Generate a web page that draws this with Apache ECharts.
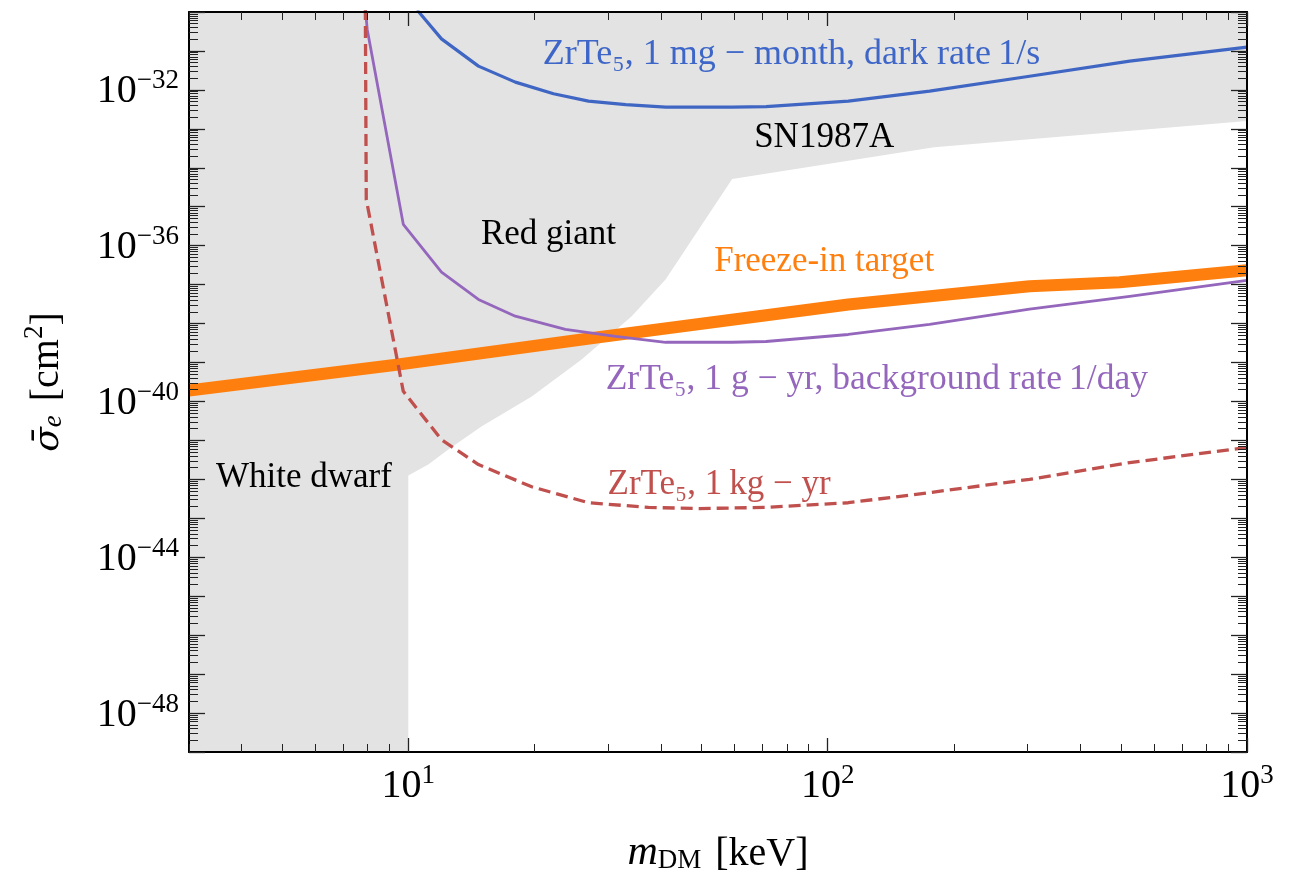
<!DOCTYPE html>
<html><head><meta charset="utf-8">
<script src="https://cdn.jsdelivr.net/npm/echarts@6/dist/echarts.min.js"></script>
<style>html,body{margin:0;padding:0;background:#fff}#c{width:1298px;height:872px}</style>
</head><body><div id="c"></div>
<script>
const FONT = '"Liberation Serif", "DejaVu Serif", serif';

// axis ranges (mass in keV, cross-section exponent = log10(sigma / cm^2))
const xRange = [3, 1000];
const yExpRange = [-49, -30];
const xLabelExps = [1, 2, 3];
const yLabelExps = [-48, -44, -40, -36, -32];

// excluded region (SN1987A / Red giant / White dwarf), boundary below which it's allowed
const grayMass = [3, 10, 10, 11.16, 12.46, 14.94, 19.7, 25.9, 34.1, 41.1, 59.2, 179.5, 1000];
const grayLogSigma = [-49, -49, -41.90, -41.62, -41.23, -40.64, -39.87, -38.92, -37.81, -36.86, -34.29, -33.47, -32.80];

// Freeze-in target
const orangeMass = [3, 9.47, 28.4, 112, 303, 497, 1000];
const orangeLogSigma = [-39.72, -39.05, -38.35, -37.51, -37.04, -36.94, -36.63];

// ZrTe5, 1 mg-month, dark rate 1/s
const blueMass = [10.5, 12.0, 14.7, 18.0, 22.2, 26.9, 33.0, 41.1, 59.2, 71.3, 112, 175, 303, 525, 1000];
const blueLogSigma = [-29.95, -30.69, -31.39, -31.80, -32.10, -32.29, -32.38, -32.44, -32.44, -32.43, -32.29, -32.03, -31.65, -31.26, -30.90];

// ZrTe5, 1 g-yr, background rate 1/day
const purpleMass = [7.9, 7.98, 9.73, 12.0, 14.7, 18.0, 23.7, 31.2, 41.1, 59.2, 71.3, 112, 175, 303, 525, 1000];
const purpleLogSigma = [-29.9, -30.44, -35.45, -36.68, -37.38, -37.81, -38.15, -38.33, -38.48, -38.48, -38.46, -38.28, -38.02, -37.63, -37.30, -36.89];

// ZrTe5, 1 kg-yr
const redMass = [7.9, 7.94, 9.73, 12.0, 14.7, 19.7, 26.9, 37.4, 49.3, 71.3, 112, 175, 303, 525, 1000];
const redLogSigma = [-29.9, -34.81, -39.74, -40.98, -41.62, -42.19, -42.60, -42.72, -42.75, -42.72, -42.60, -42.34, -42.00, -41.57, -41.18];

// annotations: text, mass, log10 sigma, colour
const annoText = ['ZrTe\u2085, 1 mg \u2212 month, dark rate\u20091/s', 'SN1987A', 'Red giant', 'Freeze-in target',
  'ZrTe\u2085, 1 g \u2212 yr, background rate\u20091/day', 'White dwarf', 'ZrTe\u2085, 1\u2009kg \u2212 yr'];
const annoMass = [82.0, 98.1, 21.6, 98.1, 131, 5.64, 55.1];
const annoLogSigma = [-31.08, -33.22, -35.72, -36.42, -39.45, -41.95, -42.15];
const annoColor = ['#3d66c8', '#000000', '#000000', '#ff7f0e', '#9467bd', '#000000', '#c0504d'];
const annoSize = [36, 35, 35, 35, 35.5, 35, 35];

const L = Math.log10;
const pts = (ms, ss) => ms.map((m, i) => [L(m), ss[i]]);

// log-spaced minor tick positions
const xMinor = [];
for (let d = 0; d <= 2; d++) for (let k = 2; k <= 9; k++) { const v = k * Math.pow(10, d); if (v > xRange[0] - 1e-9 && v < xRange[1]) xMinor.push(L(v)); }
const xMajor = [1, 2, 3];
const yMinor = [], yMajor = [];
for (let n = yExpRange[0]; n < yExpRange[1]; n++) for (let k = 2; k <= 9; k++) yMinor.push(n + L(k));
for (let n = yExpRange[0]; n <= yExpRange[1]; n++) yMajor.push(n);

const tickColor = '#222';
const xBase = { type: 'value', min: L(xRange[0]), max: L(xRange[1]), splitLine: { show: false }, gridIndex: 0, z: 10 };
const yBase = { type: 'value', min: yExpRange[0], max: yExpRange[1], splitLine: { show: false }, gridIndex: 0, z: 10 };
const expLabel = n => '{b|10}{s|' + (n < 0 ? '\u2212' + Math.abs(n) : n) + '}';
const labelRich = {
  b: { fontFamily: FONT, fontSize: 40, color: '#000', verticalAlign: 'bottom', lineHeight: 44 },
  s: { fontFamily: FONT, fontSize: 27, color: '#000', verticalAlign: 'top', lineHeight: 44 }
};

const xAxes = [
  Object.assign({}, xBase, { position: 'bottom',
    axisLine: { show: true, lineStyle: { color: '#000', width: 2 } },
    axisTick: { show: true, inside: true, length: 14, customValues: xMajor, lineStyle: { color: tickColor, width: 1.3 } },
    axisLabel: { show: true, customValues: xLabelExps, margin: 10, formatter: v => expLabel(Math.round(v)), rich: labelRich },
    name: '{i|m}{sub|DM}{n|[keV]}', nameLocation: 'middle', nameGap: 76,
    nameTextStyle: { rich: {
      i: { fontFamily: FONT, fontStyle: 'italic', fontSize: 42, color: '#000', verticalAlign: 'bottom', lineHeight: 46 },
      sub: { fontFamily: FONT, fontSize: 27, color: '#000', verticalAlign: 'bottom', lineHeight: 38 },
      n: { fontFamily: FONT, fontSize: 40, color: '#000', verticalAlign: 'bottom', lineHeight: 46, padding: [0, 0, 0, 14] } } } }),
  Object.assign({}, xBase, { position: 'bottom', axisLine: { show: false },
    axisTick: { show: true, inside: true, length: 8, customValues: xMinor, lineStyle: { color: tickColor, width: 1 } },
    axisLabel: { show: false } }),
  Object.assign({}, xBase, { position: 'top', axisLine: { show: true, lineStyle: { color: '#000', width: 2 } },
    axisTick: { show: true, inside: true, length: 14, customValues: xMajor, lineStyle: { color: tickColor, width: 1.3 } },
    axisLabel: { show: false } }),
  Object.assign({}, xBase, { position: 'top', axisLine: { show: false },
    axisTick: { show: true, inside: true, length: 8, customValues: xMinor, lineStyle: { color: tickColor, width: 1 } },
    axisLabel: { show: false } })
];
const yAxes = [
  Object.assign({}, yBase, { position: 'left',
    axisLine: { show: true, lineStyle: { color: '#000', width: 2 } },
    axisTick: { show: true, inside: true, length: 16, customValues: yMajor, lineStyle: { color: tickColor, width: 1.3 } },
    axisLabel: { show: true, customValues: yLabelExps, margin: 10, formatter: v => expLabel(Math.round(v)), rich: labelRich },
    name: '{i|\u03c3\u0304}{sub|e}{n|[cm}{sup|2}{m|]}', nameLocation: 'middle', nameRotate: 90, nameGap: 122,
    nameTextStyle: { rich: {
      i: { fontFamily: '"DejaVu Serif", serif', fontStyle: 'italic', fontSize: 36, color: '#000', verticalAlign: 'bottom', lineHeight: 46 },
      sub: { fontFamily: FONT, fontStyle: 'italic', fontSize: 27, color: '#000', verticalAlign: 'bottom', lineHeight: 38 },
      sup: { fontFamily: FONT, fontSize: 27, color: '#000', verticalAlign: 'top', lineHeight: 46 },
      n: { fontFamily: FONT, fontSize: 40, color: '#000', verticalAlign: 'bottom', lineHeight: 46, padding: [0, 0, 0, 14] },
      m: { fontFamily: FONT, fontSize: 40, color: '#000', verticalAlign: 'bottom', lineHeight: 46 } } } }),
  Object.assign({}, yBase, { position: 'left', axisLine: { show: false },
    axisTick: { show: true, inside: true, length: 9, customValues: yMinor, lineStyle: { color: tickColor, width: 1 } },
    axisLabel: { show: false } }),
  Object.assign({}, yBase, { position: 'right', axisLine: { show: true, lineStyle: { color: '#000', width: 2 } },
    axisTick: { show: true, inside: true, length: 16, customValues: yMajor, lineStyle: { color: tickColor, width: 1.3 } },
    axisLabel: { show: false } }),
  Object.assign({}, yBase, { position: 'right', axisLine: { show: false },
    axisTick: { show: true, inside: true, length: 9, customValues: yMinor, lineStyle: { color: tickColor, width: 1 } },
    axisLabel: { show: false } })
];

const lineSeries = (data, color, width, z, type) => ({
  type: 'line', data, symbol: 'none', smooth: false, silent: true, z, clip: true,
  lineStyle: { color, width, type: type || 'solid', cap: 'butt', join: 'round' }, animation: false
});

const option = {
  animation: false,
  backgroundColor: '#fff',
  grid: { left: 189, right: 51, top: 12, bottom: 120, containLabel: false, outerBoundsMode: 'none' },
  xAxis: xAxes,
  yAxis: yAxes,
  series: [
    { type: 'line', data: pts(grayMass, grayLogSigma), symbol: 'none', silent: true, z: 1,
      lineStyle: { width: 0, opacity: 0 }, areaStyle: { color: '#e3e3e3', opacity: 1, origin: 'end' } },
    lineSeries(pts(orangeMass, orangeLogSigma), '#ff7f0e', 12, 2),
    lineSeries(pts(purpleMass, purpleLogSigma), '#9467bd', 2.8, 3),
    lineSeries(pts(redMass, redLogSigma), '#c0504d', 3.3, 4, [12, 6]),
    lineSeries(pts(blueMass, blueLogSigma), '#4066c4', 3.2, 5),
    { type: 'scatter', symbolSize: 0, silent: true, z: 10, itemStyle: { color: '#000', opacity: 1 },
      data: annoText.map((t, i) => ({ value: [L(annoMass[i]), annoLogSigma[i]],
        label: { show: true, position: [0, 0], align: 'center', verticalAlign: 'middle', formatter: t,
          color: annoColor[i], opacity: 1, textBorderWidth: 0, textShadowBlur: 0,
          fontFamily: FONT, fontSize: annoSize[i] } })) }
  ]
};
const chart = echarts.init(document.getElementById('c'), null, { renderer: 'canvas' });
chart.setOption(option);
</script></body></html>
